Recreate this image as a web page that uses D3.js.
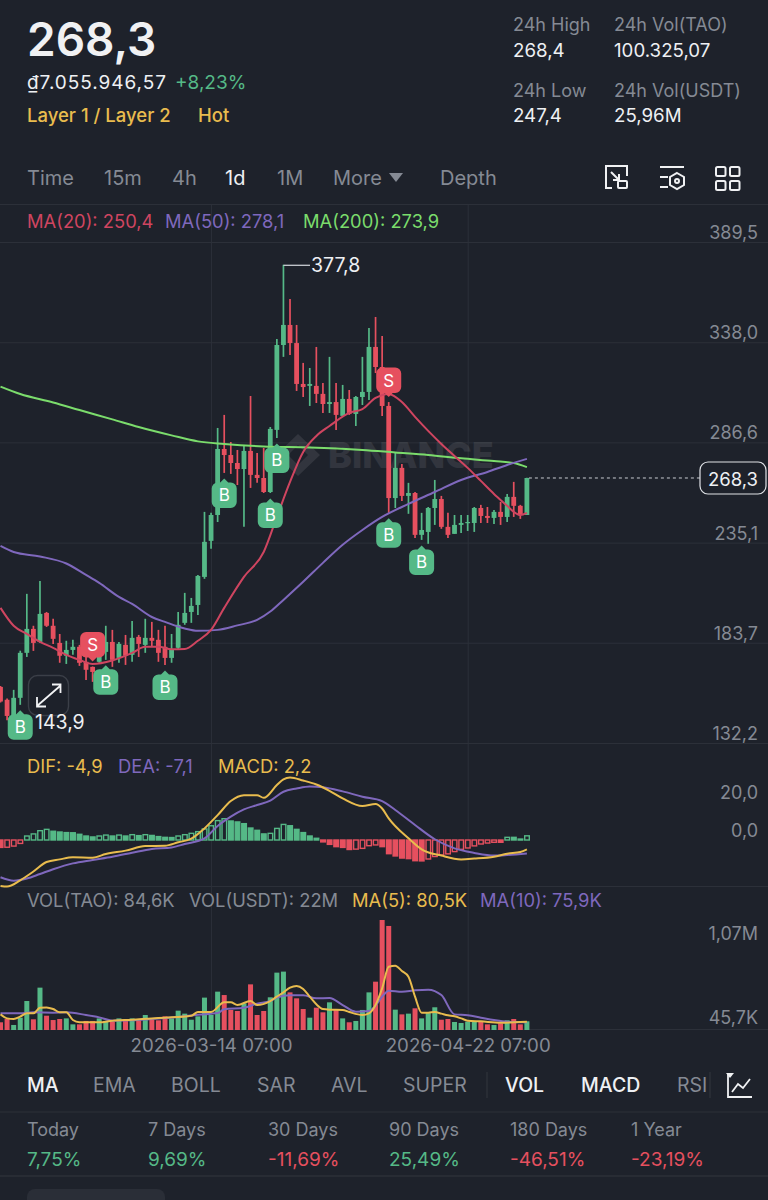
<!DOCTYPE html>
<html><head><meta charset="utf-8">
<script src="https://cdn.jsdelivr.net/npm/d3@7/dist/d3.min.js"></script>
<style>
html,body{margin:0;padding:0;background:#1e222b;}
svg{display:block;}
text{font-family:Inter,"Noto Sans",sans-serif;}
</style></head><body>
<svg id="c" width="768" height="1200"></svg>
<script>
// ---------- candles (one per day, index 0..80)
const opens=[161.0,154.4,146.1,155.4,178.5,190.8,184.1,199.0,192.4,183.6,177.0,180.0,181.6,173.9,171.3,173.9,179.0,184.1,175.9,182.6,177.5,186.7,182.6,186.2,185.2,181.6,175.9,181.1,193.9,199.5,203.1,217.5,236.0,249.3,283.2,280.1,276.0,272.9,282.2,269.9,268.3,261.1,293.0,336.6,346.9,337.6,316.6,315.6,315.6,311.5,306.3,307.3,300.2,308.9,301.2,309.9,312.5,335.6,325.3,305.3,258.0,273.5,259.1,260.6,239.1,240.6,252.9,257.5,243.2,239.6,244.2,245.2,245.2,252.9,248.8,247.8,250.9,248.3,258.6,254.0,249.3];
const highs=[161.5,155.0,159.5,179.6,208.8,192.4,215.4,199.5,196.0,188.2,184.7,185.2,182.6,176.4,171.5,186.7,192.4,190.3,184.1,187.7,194.9,187.7,196.0,194.4,190.3,192.4,188.2,199.5,209.3,206.7,218.5,250.9,250.4,294.0,300.7,286.8,282.7,284.8,310.4,281.2,283.7,294.5,339.7,377.8,360.2,346.9,327.4,324.8,335.6,317.1,330.5,317.1,316.1,313.5,310.4,330.5,345.3,351.0,341.2,307.3,281.2,275.5,265.8,261.1,250.4,253.4,267.3,259.1,250.4,249.3,249.3,249.3,253.4,254.5,253.4,251.9,256.0,260.1,266.3,254.5,268.4];
const lows=[153.0,143.9,144.5,151.8,176.4,179.5,183.6,191.8,183.1,173.4,172.8,177.5,171.8,164.6,163.6,173.4,174.9,171.3,173.4,172.3,173.9,176.4,178.5,181.6,173.9,172.3,173.4,180.5,192.9,193.9,198.0,216.5,231.9,245.7,270.9,270.4,264.7,243.2,263.2,265.8,260.6,260.6,288.9,330.5,331.5,313.0,309.9,305.3,306.8,301.7,301.7,293.0,299.7,300.7,295.0,305.8,308.4,322.2,300.2,250.4,252.9,256.5,249.9,237.5,236.5,234.5,244.2,242.2,237.5,239.6,240.1,241.1,240.6,245.2,245.2,244.7,244.2,245.7,248.3,247.3,249.3];
const closes=[153.5,146.1,155.4,178.5,190.8,183.6,198.5,192.4,185.7,177.0,180.0,181.6,173.4,169.8,168.7,181.6,184.1,174.9,183.1,177.0,186.2,183.1,186.2,184.7,178.5,175.9,180.5,192.9,199.0,202.6,218.0,235.5,249.3,283.2,280.1,276.0,272.9,282.2,269.9,268.3,261.1,293.5,336.6,346.9,337.6,316.6,315.0,316.6,311.5,306.3,307.3,300.7,308.9,301.2,309.9,312.5,335.6,325.3,305.3,258.0,273.5,259.1,260.6,239.1,241.6,252.9,257.5,243.2,239.1,244.2,245.2,245.7,252.9,248.8,247.8,250.9,248.3,258.6,254.0,249.3,268.3];
// ---------- moving averages, [candle index, value]
const ma20=[[0,201.6],[2,192.4],[4,188.2],[6,184.1],[8,181.1],[10,177.5],[12,174.9],[14,172.8],[17,174.6],[20,178.5],[22,181.6],[24,181.6],[26,180.3],[28,180.5],[30,184.7],[32,190.3],[34,201.6],[37,217.5],[40,230.3],[42,248.3],[44,266.3],[46,281.7],[48,289.9],[50,295.0],[53,301.7],[55,303.7],[57,309.4],[59,311.5],[61,307.3],[63,299.7],[65,292.5],[67,285.8],[69,279.6],[71,273.5],[73,266.8],[75,260.1],[77,254.0],[78,250.9],[79,249.3],[80,250.4]];
const ma50=[[0,233.4],[2,230.3],[6,228.0],[10,224.4],[13,218.5],[15,214.4],[18,207.2],[20,203.6],[23,196.9],[25,194.4],[28,191.0],[30,189.8],[33,190.3],[36,192.6],[39,195.4],[41,199.7],[43,205.7],[46,215.0],[49,224.7],[52,234.0],[55,241.6],[58,248.3],[62,255.0],[66,261.1],[70,267.3],[74,271.4],[77,275.0],[80,278.1]];
const ma200=[[0,315.2],[3,311.4],[8,307.1],[12,303.2],[17,298.4],[21,294.5],[26,290.2],[30,287.1],[34,285.8],[40,284.5],[47,284.0],[55,282.7],[60,281.4],[65,280.1],[70,278.4],[75,277.0],[78,276.0],[80,273.9]];
// ---------- MACD panel
const hist=[-3.9,-3.8,-3.2,-1.8,2.1,3.2,4.9,5.6,4.6,4.2,3.9,3.8,3.0,2.1,1.6,2.1,2.6,2.1,2.6,2.1,2.8,2.3,2.8,2.4,1.8,1.4,1.3,2.1,2.8,3.5,4.4,5.8,7.5,10.2,11.2,10.0,9.5,8.6,6.3,5.1,3.2,3.5,6.1,8.2,7.5,5.6,3.9,2.1,0.9,-1.0,-2.3,-3.5,-3.9,-5.0,-4.8,-4.4,-3.0,-2.6,-3.5,-7.2,-8.4,-9.5,-9.8,-10.9,-11.0,-10.0,-8.7,-7.9,-7.3,-6.1,-4.9,-4.2,-3.1,-2.1,-1.6,-1.2,-1.2,1.4,1.4,0.5,2.2];
const dif=[[0,-24.2],[1,-24.5],[3,-21.2],[5,-16.6],[7,-11.6],[9,-10.2],[11,-9.1],[14,-9.3],[16,-7.4],[19,-5.6],[22,-3.2],[25,-3.0],[27,-1.2],[29,0.7],[31,6.1],[33,13.1],[35,20.5],[37,23.5],[39,23.6],[40,22.2],[42,28.9],[43,31.9],[44,32.9],[46,31.3],[48,29.2],[50,25.9],[52,21.9],[55,17.9],[57,18.9],[58,16.6],[59,11.4],[62,0.9],[64,-4.9],[67,-8.2],[70,-10.2],[72,-9.8],[75,-8.8],[77,-7.2],[79,-6.3],[80,-4.9]];
const dea=[[0,-19.6],[2,-21.4],[4,-20.3],[6,-17.9],[8,-15.4],[11,-12.3],[14,-10.5],[17,-8.8],[20,-6.7],[23,-4.7],[26,-3.9],[28,-2.1],[31,0.9],[33,7.4],[35,12.3],[37,16.1],[39,18.4],[41,20.7],[43,25.4],[45,27.1],[47,28.2],[49,27.8],[52,25.6],[55,22.8],[58,20.5],[60,15.8],[63,7.9],[66,0.4],[69,-4.4],[72,-6.8],[75,-8.2],[77,-7.9],[80,-7.1]];
// ---------- volume panel (thousands of TAO)
const vol=[75,107,49,120,282,104,412,139,97,107,113,55,55,88,88,113,88,81,113,88,113,94,146,100,94,133,113,188,159,100,133,315,146,373,340,195,185,259,444,146,185,318,558,568,366,308,204,120,217,172,269,195,113,75,88,195,366,470,1070,1012,198,152,159,211,113,165,221,100,107,78,68,81,81,78,55,49,65,94,107,55,84.6];
const volMa5=[[0,152],[1,113],[2,107],[3,130],[4,162],[5,162],[6,217],[7,220],[8,204],[9,172],[10,172],[11,97],[12,75],[15,75],[17,91],[20,100],[23,113],[25,120],[29,139],[30,175],[32,175],[34,269],[35,269],[36,243],[38,282],[39,243],[41,282],[42,324],[43,366],[44,412],[45,428],[46,399],[47,324],[48,250],[49,204],[50,198],[52,195],[53,175],[55,146],[56,162],[57,243],[58,405],[59,616],[60,626],[61,574],[62,519],[63,324],[64,169],[65,169],[66,175],[67,159],[68,143],[69,133],[70,113],[71,91],[73,84],[76,71],[78,75],[80,80.5]];
const volMa10=[[0,162],[3,162],[5,172],[8,169],[10,172],[13,146],[15,123],[17,91],[20,94],[23,107],[27,126],[30,149],[33,165],[34,201],[37,217],[39,256],[41,282],[42,315],[44,337],[46,337],[48,308],[50,311],[52,243],[54,178],[56,185],[57,237],[58,324],[59,383],[61,373],[63,386],[65,392],[67,340],[69,152],[71,143],[73,120],[75,97],[77,81],[80,75.9]];
// ---------- axes & labels
const priceTicks=[389.5,338.0,286.6,235.1,183.7,132.2];
const macdTicks=[20,0];
const volTicks=[1070,45.7];
const volTickLabels=["1,07M","45,7K"];
const dateTicks=[32,71];
const dateLabels=["2026-03-14 07:00","2026-04-22 07:00"];
// ---------- trade signals
const signalIdx=[3,16,25,34,41,42,59,64,14,59];
const signalType=["B","B","B","B","B","B","B","B","S","S"];
// ---------- header text
const timeTabs=[["Time",27,0],["15m",104,0],["4h",172,0],["1d",225,1],["1M",277,0],["More",333,0],["Depth",440,0]];
const indicatorTabs=[["MA",27,1],["EMA",93,0],["BOLL",171,0],["SAR",257,0],["AVL",331,0],["SUPER",403,0],["VOL",505,1],["MACD",581,1],["RSI",677,0]];
const perfLabels=["Today","7 Days","30 Days","90 Days","180 Days","1 Year"];
const perfValues=["7,75%","9,69%","-11,69%","25,49%","-46,51%","-23,19%"];
const perfNums=[7.75,9.69,-11.69,25.49,-46.51,-23.19];
const perfX=[27,148,268,389,510,631];

const GREEN="#55b987",RED="#e6505f",GRID="#2c3039",AXIS="#858a94",GOLD="#e9bc4e",PURPLE="#7f68bd",LIME="#7bdc6c",CRIM="#cf4560",WHITE="#eef0f3";
const svg=d3.select("#c");
svg.append("rect").attr("width",768).attr("height",1200).attr("fill","#1e222b");
const x=d3.scaleLinear().domain([0,80]).range([0.5,526.9]);
const yP=d3.scaleLinear().domain([132.2,389.5]).range([743,242]);
const yM=d3.scaleLinear().domain([-20,20]).range([878,802]);
const yV=d3.scaleLinear().domain([0,1070]).range([1030,920]);
const loc=d3.formatLocale({decimal:",",thousands:".",grouping:[3],currency:["",""]});
const f1=loc.format(".1f");
const idx=d3.range(opens.length);
const col=i=>closes[i]>=opens[i]?GREEN:RED;

function txt(s,px,py,size,fill,opts={}){
  return svg.append("text").attr("x",px).attr("y",py).attr("font-size",size).attr("fill",fill)
    .attr("font-weight",opts.w||400).attr("text-anchor",opts.a||"start").attr("dominant-baseline","central")
    .attr("letter-spacing",opts.ls||null).text(s);
}
function styleAxis(g){
  g.select(".domain").remove();
  g.selectAll("line").attr("stroke",GRID).attr("stroke-width",1);
  g.selectAll("text").attr("fill",AXIS).attr("font-size",18).attr("font-family","Inter,'Noto Sans',sans-serif");
}
// header separators and panel borders
[204.5,743.5,886.5,1029.5].forEach(v=>svg.append("line").attr("x1",0).attr("x2",768).attr("y1",v).attr("y2",v).attr("stroke",GRID));

// axes
const gx=svg.append("g").attr("transform","translate(0,1030)")
  .call(d3.axisBottom(x).tickValues(dateTicks).tickFormat((d,i)=>dateLabels[i]).tickSizeInner(-825).tickSizeOuter(0).tickPadding(9));
styleAxis(gx); gx.selectAll("text").attr("font-size",18.7);
const gp=svg.append("g").attr("transform","translate(768,0)")
  .call(d3.axisLeft(yP).tickValues(priceTicks).tickFormat(f1).tickSize(768).tickPadding(-758));
styleAxis(gp); gp.selectAll("text").attr("dy",null).attr("y",-10).attr("dominant-baseline","central");
const gm=svg.append("g").attr("transform","translate(768,0)")
  .call(d3.axisLeft(yM).tickValues(macdTicks).tickFormat(f1).tickSize(768).tickPadding(-758));
styleAxis(gm); gm.selectAll("line").remove(); gm.selectAll("text").attr("dy",null).attr("y",-10).attr("dominant-baseline","central");
const gv=svg.append("g").attr("transform","translate(768,0)")
  .call(d3.axisLeft(yV).tickValues(volTicks).tickFormat((d,i)=>volTickLabels[i]).tickSize(768).tickPadding(-758));
styleAxis(gv); gv.selectAll("line").remove(); gv.selectAll("text").attr("dy",null).attr("y",(d,i)=>i==0?13:-8).attr("dominant-baseline","central");

// watermark
const wm=svg.append("g").attr("opacity",0.085);
wm.append("path").attr("fill","#fff").attr("fill-rule","evenodd")
  .attr("d",d3.line()([[298,434],[320,455],[298,476],[276,455]])+d3.line()([[298,445],[308,455],[298,465],[288,455]]));
wm.append("text").attr("x",328).attr("y",468).attr("font-size",36).attr("font-weight",800).attr("fill","#fff").text("BINANCE");

// candles
const gc=svg.append("g").selectAll("g").data(idx).join("g");
gc.append("line").attr("x1",i=>x(i)).attr("x2",i=>x(i)).attr("y1",i=>yP(highs[i])).attr("y2",i=>yP(lows[i])).attr("stroke",col).attr("stroke-width",1.7);
gc.append("rect").attr("x",i=>x(i)-2.4).attr("width",4.8).attr("y",i=>yP(Math.max(opens[i],closes[i])))
  .attr("height",i=>Math.max(1.2,Math.abs(yP(opens[i])-yP(closes[i])))).attr("fill",col);
// MA lines
const lineOf=(sc)=>d3.line().x(d=>x(d[0])).y(d=>sc(d[1])).curve(d3.curveMonotoneX);
const draw=(data,sc,c,w=2)=>svg.append("path").attr("d",lineOf(sc)(data)).attr("fill","none").attr("stroke",c).attr("stroke-width",w);
draw(ma200,yP,LIME); draw(ma50,yP,PURPLE); draw(ma20,yP,CRIM);

// price line & callouts
svg.append("line").attr("x1",x(80)+2).attr("x2",700).attr("y1",yP(closes[80])).attr("y2",yP(closes[80])).attr("stroke","#c9ccd2").attr("stroke-dasharray","3 3");
svg.append("rect").attr("x",700).attr("y",462).attr("width",66).attr("height",32).attr("rx",8).attr("fill","#1e222b").attr("stroke","#dfe2e6").attr("stroke-width",1.2);
txt(f1(closes[80]),733,478.5,18.5,WHITE,{a:"middle"});
const hiI=d3.maxIndex(highs), loI=d3.minIndex(lows);
svg.append("line").attr("x1",x(hiI)).attr("x2",310).attr("y1",yP(highs[hiI])+.5).attr("y2",yP(highs[hiI])+.5).attr("stroke","#d6d9de").attr("stroke-width",1.2);
txt(f1(highs[hiI]),311,265,19.5,WHITE);

// signals
function markerPath(t){
  const p=d3.path(),w=12.5,r=6;
  const top=t=="B"?-12.5:-13,bot=t=="B"?13:12.5;
  p.moveTo(-w+r,top);
  if(t=="B"){p.lineTo(-4,top);p.lineTo(0,top-4);p.lineTo(4,top);}
  p.lineTo(w-r,top);p.arcTo(w,top,w,top+r,r);p.lineTo(w,bot-r);p.arcTo(w,bot,w-r,bot,r);
  if(t=="S"){p.lineTo(4,bot);p.lineTo(0,bot+4);p.lineTo(-4,bot);}
  p.lineTo(-w+r,bot);p.arcTo(-w,bot,-w,bot-r,r);p.lineTo(-w,top+r);p.arcTo(-w,top,-w+r,top,r);p.closePath();
  return p.toString();
}
const sg=svg.append("g").selectAll("g").data(signalIdx.map((d,k)=>({i:d,t:signalType[k]}))).join("g")
  .attr("transform",d=>`translate(${x(d.i)},${d.t=="B"?yP(lows[d.i])+22:yP(highs[d.i])-21.5})`);
sg.append("path").attr("d",d=>markerPath(d.t)).attr("fill",d=>d.t=="B"?GREEN:RED);
sg.append("text").attr("text-anchor","middle").attr("dominant-baseline","central").attr("y",.5).attr("font-size",17).attr("font-weight",400).attr("fill","#fff").text(d=>d.t);

// expand button
svg.append("rect").attr("x",28.5).attr("y",675.5).attr("width",40).attr("height",40).attr("rx",9).attr("fill","#1e222b").attr("fill-opacity",.75).attr("stroke","#3b3f48").attr("stroke-width",1.4);
svg.append("path").attr("d","M37 706L60 686M52 684.5H60.5V693M37 697V706.5H46").attr("fill","none").attr("stroke","#f2f3f5").attr("stroke-width",1.8);
txt(f1(lows[loI]),35,722,19.5,WHITE);

// MACD histogram
const gh=svg.append("g").selectAll("rect").data(idx).join("rect")
  .attr("x",i=>x(i)-2.2).attr("width",4.6)
  .attr("y",i=>Math.min(yM(0),yM(hist[i]))).attr("height",i=>Math.max(1,Math.abs(yM(hist[i])-yM(0))))
  .attr("fill",i=>i>0&&hist[i]>hist[i-1]?"#1e222b":(hist[i]>=0?GREEN:RED))
  .attr("stroke",i=>hist[i]>=0?GREEN:RED).attr("stroke-width",1.4);
draw(dea,yM,PURPLE); draw(dif,yM,GOLD);

// volume bars
svg.append("g").selectAll("rect").data(idx).join("rect")
  .attr("x",i=>x(i)-2.5).attr("width",5).attr("y",i=>yV(vol[i])).attr("height",i=>yV(0)-yV(vol[i])).attr("fill",col);
draw(volMa10,yV,PURPLE); draw(volMa5,yV,GOLD);

// header
txt("268,3",27,39,46,"#f0f1f3",{w:600});
txt("₫7.055.946,57",27,82,19,WHITE,{ls:.95});
txt("+8,23%",175,82,19,GREEN);
txt("Layer 1 / Layer 2",27,115,18.5,GOLD,{w:500});
txt("Hot",198,115,18.5,GOLD,{w:500});
[["24h High",513,24,AXIS],["268,4",513,50,WHITE],["24h Low",513,90,AXIS],["247,4",513,115,WHITE],["24h Vol(TAO)",614,24,AXIS],["100.325,07",614,50,WHITE],["24h Vol(USDT)",614,90,AXIS],["25,96M",614,115,WHITE]].forEach(d=>txt(d[0],d[1],d[2],d[3]==WHITE?18.7:18,d[3]));
timeTabs.forEach(d=>txt(d[0],d[1],178,20,d[2]?WHITE:AXIS));
svg.append("path").attr("d",d3.line()([[389,173],[403,173],[396,182]])+"Z").attr("fill",AXIS);
// toolbar icons
const ic=svg.append("g").attr("fill","none").attr("stroke","#f0f1f3").attr("stroke-width",2);
ic.append("path").attr("d","M612 188H606V166H627V176M611 172L619 180M619 174V180H613");
ic.append("rect").attr("x",618).attr("y",181).attr("width",9).attr("height",7).attr("rx",1);
ic.append("path").attr("d","M660 167H684M660 177H668M660 187H668");
ic.append("path").attr("d","M677 173L684 177V185L677 189L670 185V177Z");
ic.append("circle").attr("cx",677).attr("cy",181).attr("r",2);
[[716,167],[730,167],[716,181],[730,181]].forEach(p=>ic.append("rect").attr("x",p[0]).attr("y",p[1]).attr("width",9.5).attr("height",9).attr("rx",1.5));

// legends
const LS=18.35;
txt("MA(20): 250,4",27,221,LS,CRIM);
txt("MA(50): 278,1",165,221,LS,PURPLE);
txt("MA(200): 273,9",303,221,LS,LIME);
txt("DIF: -4,9",27,766,LS,GOLD);
txt("DEA: -7,1",118,766,LS,PURPLE);
txt("MACD: 2,2",218,766,LS,GOLD);
txt("VOL(TAO): 84,6K",27,900,LS,AXIS);
txt("VOL(USDT): 22M",189,900,LS,AXIS);
txt("MA(5): 80,5K",352,900,LS,GOLD);
txt("MA(10): 75,9K",480,900,LS,PURPLE);

// footer
indicatorTabs.forEach(d=>txt(d[0],d[1],1085,19.5,d[2]?WHITE:AXIS,{w:d[2]?500:400}));
[487,710].forEach(v=>svg.append("line").attr("x1",v).attr("x2",v).attr("y1",1072).attr("y2",1098).attr("stroke",GRID).attr("stroke-width",1.5));
svg.append("path").attr("d","M728 1073V1097H752M732 1092L738 1084L743 1088L750 1079").attr("fill","none").attr("stroke","#f0f1f3").attr("stroke-width",1.8);
svg.append("path").attr("d",d3.line()([[726,1073],[734,1073],[730,1078]])+"Z").attr("fill","#f0f1f3");
svg.append("line").attr("x1",0).attr("x2",768).attr("y1",1112).attr("y2",1112).attr("stroke",GRID);
svg.append("line").attr("x1",0).attr("x2",768).attr("y1",1176).attr("y2",1176).attr("stroke",GRID).attr("stroke-width",1.5);
perfLabels.forEach((s,i)=>{
  txt(s,perfX[i],1129,18,AXIS);
  txt(perfValues[i],perfX[i],1159,19,perfNums[i]>=0?GREEN:RED);
});
svg.append("path").attr("d","M27 1200V1197a8 8 0 0 1 8-8H157a8 8 0 0 1 8 8V1200Z").attr("fill","#2a2e37");
</script>
</body></html>
